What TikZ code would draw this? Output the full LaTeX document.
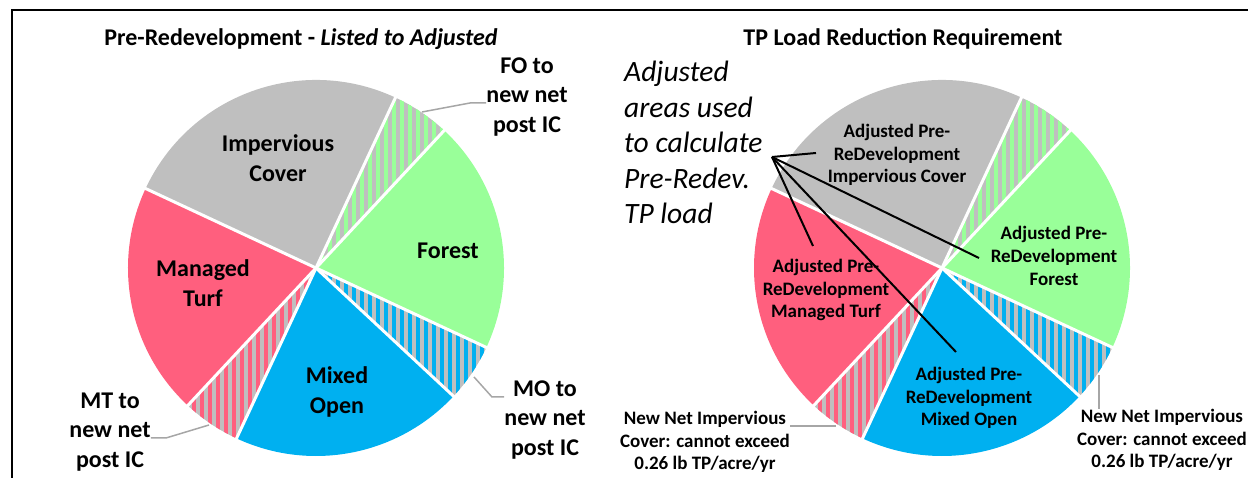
\documentclass[tikz,border=0pt]{standalone}
\usepackage{fontspec}
\setmainfont{Carlito}
\usetikzlibrary{positioning}
\definecolor{impgray}{RGB}{191,191,191}
\definecolor{turfpink}{RGB}{255,95,126}
\definecolor{forestgreen}{RGB}{153,255,153}
\definecolor{mixedblue}{RGB}{0,176,240}
\definecolor{leadergray}{RGB}{166,166,166}
\tikzset{
	gap/.style={draw=white, line width=3pt},
	title/.style={font=\bfseries\fontsize{24}{29}\selectfont, inner sep=0pt},
	biglabel/.style={font=\bfseries\fontsize{24}{29.5}\selectfont, align=center, inner sep=0pt},
	smalllabel/.style={font=\bfseries\fontsize{19}{22.8}\selectfont, align=center, inner sep=0pt},
	leader/.style={draw=leadergray, line width=1.5pt},
	pointer/.style={draw=black, line width=2pt},
}

\begin{document}
\begin{tikzpicture}[x=1pt,y=1pt]
	\useasboundingbox (0,0) rectangle (1248,478);
	
	% frame.....................
	\draw [line width=2pt] (12,-10) -- (12,468) -- (1260,468);
	
	% both pies.....................
	\foreach \cx in {316,942} {
		% solid slices
		\foreach \a/\b/\c in {65/155/impgray, 155/227/turfpink, 245/317/mixedblue, 335/407/forestgreen}
			\fill [\c] (\cx,210) -- ++(\a:188) arc [start angle=\a, end angle=\b, radius=188] -- cycle;
		% striped slices
		\foreach \a/\b/\c in {227/245/turfpink, 317/335/mixedblue, 47/65/forestgreen} {
			\fill [impgray] (\cx,210) -- ++(\a:188) arc [start angle=\a, end angle=\b, radius=188] -- cycle;
			\begin{scope}
				\clip (\cx,210) -- ++(\a:188) arc [start angle=\a, end angle=\b, radius=188] -- cycle;
				\foreach \s in {-188,-180,...,188}
					\fill [\c] (\cx+\s,20) rectangle ++(4,380);
			\end{scope}
		}
		% white gaps
		\foreach \a in {47,65,155,227,245,317,335}
			\draw [gap] (\cx,210) -- ++(\a:190);
	}
	
	% titles.....................
	\node [title] (t1) at (301,439) {Pre-Redevelopment - \textit{Listed to Adjusted}};
	\node [title] (t2) at (903,439) {TP Load Reduction Requirement};
	
	% left pie labels.....................
	\node [biglabel] (imp1) at (278,320) {Impervious\\Cover};
	\node [biglabel] (forest1) at (448,227) {Forest};
	\node [biglabel] (turf1) at (203,195) {Managed\\Turf};
	\node [biglabel] (mixed1) at (337,86) {Mixed\\Open};
	\node [biglabel] (fo) at (527,381) {FO to\\new net\\post IC};
	\node [biglabel] (mo) at (545,58) {MO to\\new net\\post IC};
	\node [biglabel] (mt) at (110,46) {MT to\\new net\\post IC};
	
	% leaders to striped slices..........
	\coordinate (fotip) at (422,366);
	\coordinate (fobend) at (470,375);
	\draw [leader] (fotip) -- (fobend) -- (fobend -| fo.west);
	\coordinate (motip) at (474,101);
	\coordinate (mobend) at (492,81);
	\draw [leader] (motip) -- (mobend) -- (mobend -| mo.west);
	\coordinate (mttip) at (209,53);
	\coordinate (mtbend) at (166,40);
	\draw [leader] (mttip) -- (mtbend) -- (mtbend -| mt.east);
	
	% right pie labels.....................
	\node [smalllabel] (imp2) at (897,323) {Adjusted Pre-\\ReDevelopment\\Impervious Cover};
	\node [smalllabel] (forest2) at (1054,222) {Adjusted Pre-\\ReDevelopment\\Forest};
	\node [smalllabel] (turf2) at (826,188) {Adjusted Pre-\\ReDevelopment\\Managed Turf};
	\node [smalllabel] (mixed2) at (969,80) {Adjusted Pre-\\ReDevelopment\\Mixed Open};
	\node [smalllabel] (nl) at (705,36) {New Net Impervious\\Cover: cannot exceed\\0.26 lb TP/acre/yr};
	\node [smalllabel] (nr) at (1162,38) {New Net Impervious\\Cover: cannot exceed\\0.26 lb TP/acre/yr};
	
	\coordinate (nltip) at (836,52);
	\draw [leader] (nltip) -- (nltip -| nl.east);
	\coordinate (nrtip) at (1099,103);
	\draw [leader] (nrtip) -- (nrtip |- nr.north);
	
	% note and its pointers..............
	\node [font=\itshape\fontsize{29.5}{35.5}\selectfont, align=left, anchor=north west, inner sep=0pt] (note) at (624,417)
		{Adjusted\\areas used\\to calculate\\Pre-Redev.\\TP load};
	\coordinate (hub) at (772,321);
	\coordinate (tipI) at (816,325);
	\coordinate (tipT) at (813,232);
	\coordinate (tipM) at (956,126);
	\coordinate (tipF) at (979,220);
	\draw [pointer] (hub) -- (tipI);
	\draw [pointer] (hub) -- (tipT);
	\draw [pointer] (hub) -- (tipM);
	\draw [pointer] (hub) -- (tipF);
\end{tikzpicture}
\end{document}
